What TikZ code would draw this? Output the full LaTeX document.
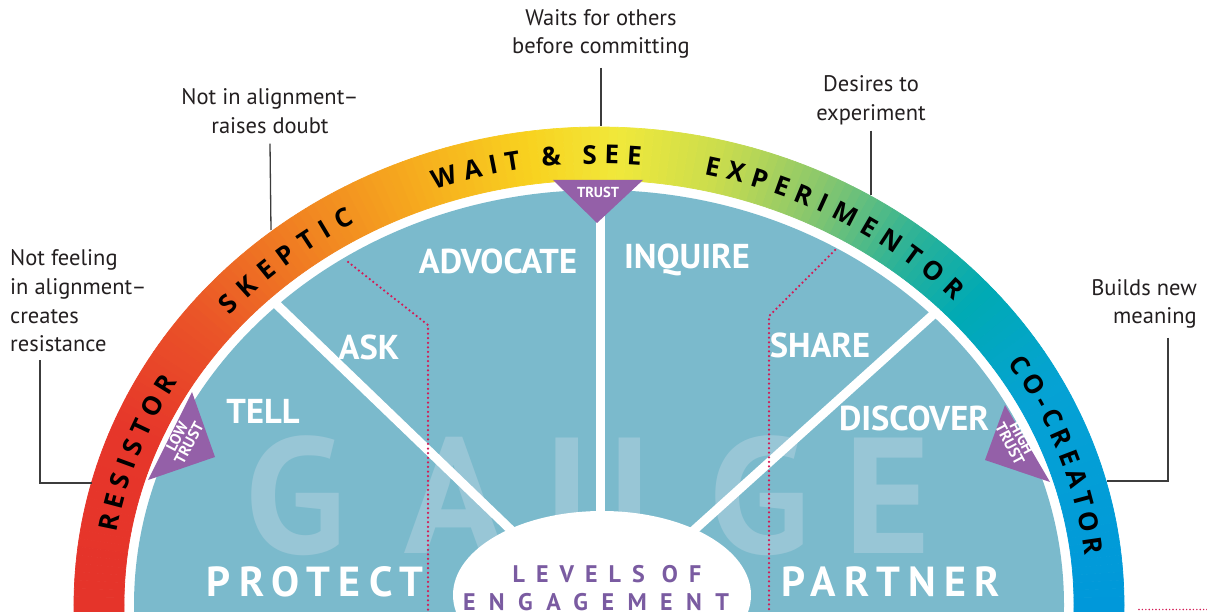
\documentclass[tikz,border=0pt]{standalone}
\usepackage{fontspec}
\setmainfont{PT Sans}
\newfontfamily\annfam{PT Sans}
\newfontfamily\labfam{PT Sans}
\newfontfamily\bandfam{Open Sans}
\newfontfamily\widefam{PT Sans}[LetterSpace=20]
\newfontfamily\levfam{PT Sans}[LetterSpace=46]
\newfontfamily\engfam{PT Sans}[LetterSpace=56]
\usetikzlibrary{decorations.text}

\definecolor{g0}{HTML}{0098DA}
\definecolor{g1}{HTML}{05A2D4}
\definecolor{g2}{HTML}{00AAB4}
\definecolor{g3}{HTML}{2BB298}
\definecolor{g4}{HTML}{86C66E}
\definecolor{g5}{HTML}{C9DC4E}
\definecolor{g6}{HTML}{F1E83A}
\definecolor{g7}{HTML}{F8D21F}
\definecolor{g8}{HTML}{F6AA1E}
\definecolor{g9}{HTML}{F07C22}
\definecolor{g10}{HTML}{EA5428}
\definecolor{g11}{HTML}{E6362A}
\definecolor{g12}{HTML}{E5332A}
\definecolor{discc}{HTML}{7BBACC}
\definecolor{wmc}{HTML}{98C6D6}
\definecolor{purp}{HTML}{9460A8}
\definecolor{levtext}{HTML}{7A5BA1}
\definecolor{dotred}{HTML}{D41A55}
\definecolor{ink}{HTML}{231F20}
\definecolor{connc}{HTML}{3C3C3C}

\newdimen\bandkern
\newcommand\K{\kern\bandkern}
\newcommand\bandfont{\bandfam\bfseries\fontsize{26}{26}\selectfont}
\newcommand\trifont{\labfam\bfseries\fontsize{14.5}{14.5}\selectfont}
\newcommand\trifontb{\labfam\bfseries\fontsize{15.5}{13.5}\selectfont}

\tikzset{
 ann/.style={font=\annfam\fontsize{22.5}{28.6}\selectfont, text=ink, inner sep=0pt},
 lbl/.style={font=\labfam\bfseries\fontsize{34.5}{34.5}\selectfont, text=white, inner sep=0pt},
 wide/.style={font=\widefam\bfseries\fontsize{42}{42}\selectfont, text=white, inner sep=0pt},
 lev/.style={font=\levfam\bfseries\fontsize{24}{24}\selectfont, text=levtext, inner sep=0pt, anchor=base},
 eng/.style={font=\engfam\bfseries\fontsize{24}{24}\selectfont, text=levtext, inner sep=0pt, anchor=base},
 wm/.style={font=\labfam\bfseries\fontsize{165}{165}\selectfont, text=wmc, inner sep=0pt, anchor=base},
 conn/.style={draw=connc, line width=1.3pt},
 spoke/.style={draw=white, line width=9pt},
 dots/.style={draw=dotred, line width=2.5pt, line cap=round, dash pattern=on 0pt off 4.6pt},
 tri/.style={fill=purp},
 trit/.style={font=\trifont, text=white, inner sep=0pt, align=center},
 tritb/.style={font=\trifontb, text=white, inner sep=0pt, align=center},
}

% #1 centre angle, #2 half span, #3 letter kern, #4 text
\newcommand\bandword[4]{%
 \bandkern=#3\relax
 \path[font=\bandfont, decorate, decoration={text along path, text align=center,
   text={|\bandfont|#4}}]
   ({#1+#2}:489 and 441) arc[start angle={#1+#2}, end angle={#1-#2}, x radius=489, y radius=441];
}

\begin{document}
\begin{tikzpicture}[x=1pt,y=1pt]
\useasboundingbox (0,0) rectangle (1207,611);
\clip (0,0) rectangle (1207,611);
\fill[white] (0,0) rectangle (1207,611);

\begin{scope}[shift={(599,6)}]
 % colour band
 \foreach \ta/\tb/\ca/\cb in {-8/0/g0/g0, 0/28/g0/g1, 28/42/g1/g2, 42/52/g2/g3, 52/64/g3/g4, 64/76/g4/g5, 76/88/g5/g6, 88/98/g6/g7, 98/112/g7/g8, 112/128/g8/g9, 128/142/g9/g10, 142/158/g10/g11, 158/188/g11/g12}{
   \pgfmathtruncatemacro\n{\tb-\ta}
   \foreach \k in {1,...,\n}{
     \pgfmathsetmacro\s{\ta+\k-1}
     \pgfmathsetmacro\e{\ta+\k}
     \pgfmathtruncatemacro\p{100-100*(\k-0.5)/\n}
     \colorlet{seg}{\ca!\p!\cb}
     \filldraw[fill=seg, draw=seg, line width=0.7pt, line join=round]
       (\s:525 and 478) arc[start angle=\s, end angle=\e, x radius=525, y radius=478]
       -- (\e:475 and 425) arc[start angle=\e, end angle=\s, x radius=475, y radius=425] -- cycle;
   }
 }
 % disc
 \fill[discc] (0,0) ellipse [x radius=465, y radius=415];
 % band words
 \bandword{160.5}{30}{6pt}{R{\K}E{\K}S{\K}I{\K}S{\K}T{\K}O{\K}R}
 \bandword{130}{28}{9pt}{S{\K}K{\K}E{\K}P{\K}T{\K}I{\K}C}
 \bandword{97.5}{28}{7.5pt}{W{\K}A{\K}I{\K}T{\K}{\kern6pt}{\K}{\&}{\K}{\kern6pt}{\K}S{\K}E{\K}E}
 \bandword{60}{34}{7.5pt}{E{\K}X{\K}P{\K}E{\K}R{\K}I{\K}M{\K}E{\K}N{\K}T{\K}O{\K}R}
 \bandword{19.5}{28}{5pt}{C{\K}O{\K}-{\K}C{\K}R{\K}E{\K}A{\K}T{\K}O{\K}R}
\end{scope}

% watermark
\node[wm] (wg1) at (296,58) {G};
\node[wm] (wa) at (454,58) {A};
\node[wm] (wu) at (598,58) {U};
\node[wm] (wg2) at (760,58) {G};
\node[wm] (we) at (888,58) {E};

% spokes
\coordinate (sl1) at (272,311); \coordinate (sl2) at (512,80);
\coordinate (sr1) at (936,299); \coordinate (sr2) at (693,80);
\coordinate (sv1) at (600,425); \coordinate (sv2) at (600,90);
\draw[spoke] (sl1) -- (sl2);
\draw[spoke] (sr1) -- (sr2);
\draw[spoke] (sv1) -- (sv2);

% dotted lines
\coordinate (dl1) at (348,349); \coordinate (dl2) at (428,286); \coordinate (dl3) at (428,-5);
\coordinate (dr1) at (835,361); \coordinate (dr2) at (769,295); \coordinate (dr3) at (769,-5);
\draw[dots] (dl1) -- (dl2) -- (dl3);
\draw[dots] (dr1) -- (dr2) -- (dr3);
\coordinate (db1) at (1139,1.5); \coordinate (db2) at (1210,1.5);
\draw[dots, line width=1.6pt, dash pattern=on 0pt off 3.4pt] (db1) -- (db2);

% centre oval
\fill[white] (602,16) ellipse [x radius=149, y radius=84];
\node[lev] (lev1) at (607,29) {LEVELS OF};
\node[eng] (lev2) at (596,0.5) {ENGAGEMENT};

% trust triangles
\fill[tri] (553,431) -- (643,431) -- (597,388) -- cycle;
\node[trit] (trust) at (598,419) {TRUST};
\fill[tri] (192,219) -- (215,154) -- (148,131) -- cycle;
\node[tritb, rotate=62] (low) at (183,171) {LOW\\TRUST};
\fill[tri] (1005,206) -- (985,151) -- (1050,129) -- cycle;
\node[tritb, rotate=-62] (high) at (1016,170) {HIGH\\TRUST};

% sector labels
\node[lbl] (advocate) at (498,350) {ADVOCATE};
\node[lbl] (inquire) at (687,351) {INQUIRE};
\node[lbl] (ask) at (369,264) {ASK};
\node[lbl] (share) at (820,266) {SHARE};
\node[lbl] (tell) at (263,200) {TELL};
\node[lbl] (discover) at (914,193) {DISCOVER};
\node[wide] (protect) at (315,29) {PROTECT};
\node[wide] (partner) at (891,29) {PARTNER};

% annotations
\node[ann, align=center] (n1) at (601,577) {Waits for others\\before committing};
\node[ann, align=center] (n2) at (270,500) {Not in alignment–\\raises doubt};
\node[ann, align=center] (n3) at (871,511) {Desires to\\experiment};
\node[ann, align=left, anchor=west] (n4) at (10,310) {Not feeling\\in alignment–\\creates\\resistance};
\node[ann, align=right, anchor=east] (n5) at (1197,307) {Builds new\\meaning};

\coordinate (c1) at (601,485);
\coordinate (c2) at (271,381);
\coordinate (c3) at (871,416);
\coordinate (c4) at (92,128);
\coordinate (c5) at (1107,130);
\draw[conn] ([yshift=-9pt]n1.south) -- (c1);
\draw[conn] ([yshift=-10pt]n2.south) -- (c2);
\draw[conn] ([yshift=-6pt]n3.south) -- (c3);
\draw[conn] ([xshift=30pt,yshift=-8pt]n4.south west) |- (c4);
\draw[conn] ([xshift=-29pt,yshift=-9pt]n5.south east) |- (c5);
\end{tikzpicture}
\end{document}
